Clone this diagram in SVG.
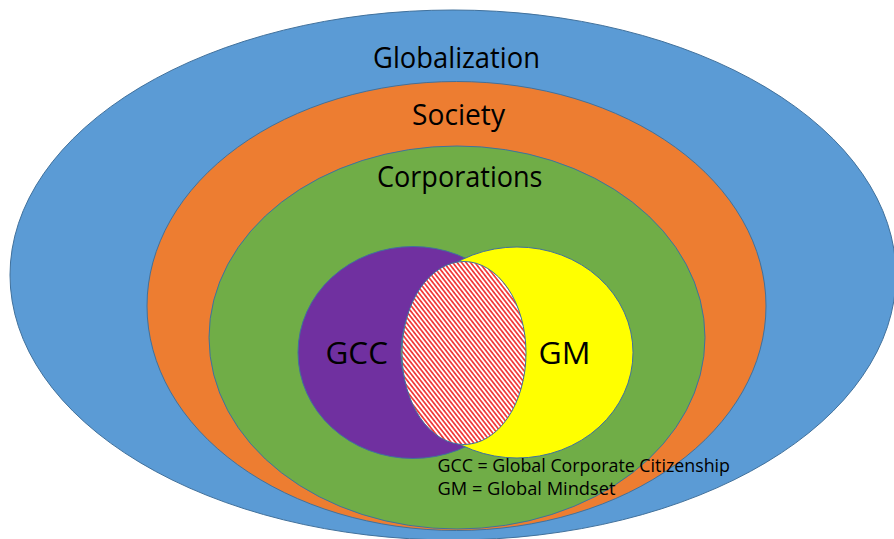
<svg xmlns="http://www.w3.org/2000/svg" width="894" height="539" viewBox="0 0 894 539">
  <defs>
    <!-- diagonal red stripes for the overlap area -->
    <pattern id="stripes" patternUnits="userSpaceOnUse" width="8" height="3.5" patternTransform="rotate(52)">
      <rect x="0" y="0" width="8" height="3.5" fill="#ffffff"/>
      <rect x="0" y="0" width="8" height="1.7" fill="#f23636"/>
    </pattern>
    <style>
      .ring { stroke: #41719c; stroke-width: 1; }
      .label { font-family: "Open Sans", "Liberation Sans", sans-serif; fill: #000000; }
      .big { font-size: 28.5px; }
      .venn { font-size: 30.5px; }
      .note { font-size: 17.5px; }
    </style>
  </defs>

  <rect x="0" y="0" width="894" height="539" fill="#ffffff"/>

  <g id="globalization">
    <ellipse class="ring" cx="453" cy="275" rx="443" ry="265" fill="#5b9bd5"/>
    <text class="label big" x="373" y="68" textLength="167" lengthAdjust="spacingAndGlyphs">Globalization</text>
  </g>

  <g id="society">
    <ellipse class="ring" cx="456.5" cy="306" rx="309.5" ry="224.5" fill="#ed7d31"/>
    <text class="label big" x="412" y="125" textLength="93" lengthAdjust="spacingAndGlyphs">Society</text>
  </g>

  <g id="corporations">
    <ellipse class="ring" cx="457" cy="337.5" rx="248" ry="191.5" fill="#70ad47"/>
    <text class="label big" x="377" y="186.5" textLength="165.5" lengthAdjust="spacingAndGlyphs">Corporations</text>
  </g>

  <g id="gcc">
    <ellipse class="ring" cx="413" cy="352.5" rx="115" ry="106" fill="#7030a0"/>
    <text class="label venn" x="325.5" y="364" textLength="62.5" lengthAdjust="spacingAndGlyphs">GCC</text>
  </g>

  <g id="gm">
    <ellipse class="ring" cx="517" cy="352.5" rx="116" ry="105.5" fill="#ffff00"/>
    <text class="label venn" x="538.5" y="364" textLength="52" lengthAdjust="spacingAndGlyphs">GM</text>
  </g>

  <g id="overlap">
    <ellipse class="ring" cx="464" cy="353" rx="62" ry="91.5" fill="url(#stripes)"/>
  </g>

  <g id="connectors"></g>

  <g id="legend">
    <text class="label note" x="437.5" y="471.5" textLength="292.5" lengthAdjust="spacingAndGlyphs">GCC = Global Corporate Citizenship</text>
    <text class="label note" x="437.5" y="495" textLength="178" lengthAdjust="spacingAndGlyphs">GM = Global Mindset</text>
  </g>
</svg>
